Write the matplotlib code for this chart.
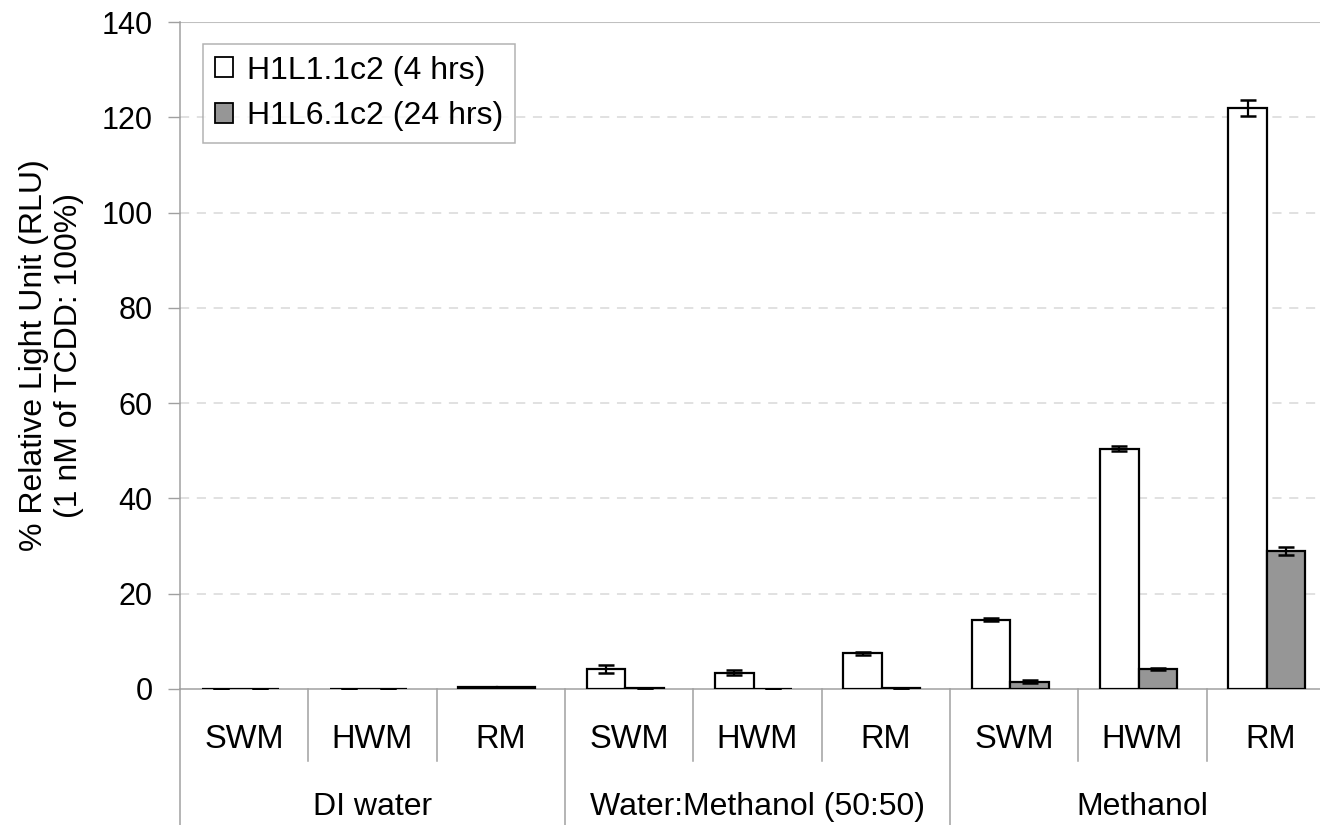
import matplotlib
matplotlib.use("Agg")
import matplotlib.pyplot as plt
import numpy as np
from matplotlib.patches import Patch
from matplotlib.lines import Line2D

plt.rcParams['font.family'] = ['Liberation Sans', 'DejaVu Sans']

groups = ["DI water", "Water:Methanol (50:50)", "Methanol"]
subcats = ["SWM", "HWM", "RM"]
series_names = ["H1L1.1c2 (4 hrs)", "H1L6.1c2 (24 hrs)"]
h1l1 = [0.05, 0.05, 0.35, 4.2, 3.4, 7.5, 14.5, 50.4, 122.0]
h1l1_err = [0.0, 0.0, 0.0, 0.8, 0.5, 0.3, 0.3, 0.5, 1.7]
h1l6 = [0.05, 0.05, 0.35, 0.3, 0.05, 0.3, 1.5, 4.2, 29.0]
h1l6_err = [0.0, 0.0, 0.0, 0.0, 0.0, 0.0, 0.3, 0.3, 0.9]
yticks = [0, 20, 40, 60, 80, 100, 120, 140]

W, H = 1320, 825
fig = plt.figure(figsize=(W / 100, H / 100), dpi=100)
ax = fig.add_axes([180 / W, (H - 689) / H, 1155 / W, 667 / H])

n = len(h1l1)
x = np.arange(n)
bw = 0.3
gray = '#969696'
ax.bar(x - bw / 2 - 0.03, h1l1, bw, color='white', edgecolor='black', linewidth=1.6, zorder=3)
ax.bar(x + bw / 2 - 0.03, h1l6, bw, color=gray, edgecolor='black', linewidth=1.6, zorder=3)
ax.errorbar(x - bw / 2 - 0.03, h1l1, yerr=h1l1_err, fmt='none', ecolor='black',
            elinewidth=1.6, capsize=6, capthick=1.8, zorder=4)
ax.errorbar(x + bw / 2 - 0.03, h1l6, yerr=h1l6_err, fmt='none', ecolor='black',
            elinewidth=1.6, capsize=6, capthick=1.8, zorder=4)

ax.set_xlim(-0.5, n - 0.5)
ax.set_ylim(0, 140)
ax.set_yticks(yticks)
ax.set_yticklabels([str(v) for v in yticks], fontsize=22)
ax.tick_params(axis='y', length=8.6, width=1, color='#a0a0a0', direction='out', pad=11)
ax.set_xticks([])
for v in yticks[1:-1]:
    ax.axhline(v, color='#d9d9d9', linestyle=(0, (6, 5)), linewidth=1.1, zorder=1)
ax.axhline(140, color='#c0c0c0', linewidth=1.5, zorder=1)

for s in ['top', 'right']:
    ax.spines[s].set_visible(False)
ax.spines['left'].set_color('#a0a0a0')
ax.spines['bottom'].set_color('#a0a0a0')
ax.spines['left'].set_linewidth(1.1)
ax.spines['bottom'].set_linewidth(1.1)

ax.set_ylabel("% Relative Light Unit (RLU)\n(1 nM of TCDD: 100%)", fontsize=23,
              linespacing=1.2)
ax.yaxis.set_label_coords((84 - 180) / 1155, 0.5)

trans = ax.get_xaxis_transform()
y_sub_end = (689 - 761) / 667
y_grp_end = (689 - 826) / 667
for k in range(n + 1):
    xb = k - 0.5
    yend = y_grp_end if k % 3 == 0 else y_sub_end
    ax.add_line(Line2D([xb, xb], [0, yend], transform=trans, color='#a0a0a0',
                       linewidth=1.1, clip_on=False))
for i in range(n):
    ax.text(i, (689 - 740) / 667, subcats[i % 3], transform=trans, ha='center',
            va='center', fontsize=23.5)
for g, name in enumerate(groups):
    ax.text(3 * g + 1, (689 - 807) / 667, name, transform=trans, ha='center',
            va='center', fontsize=23)

handles = [Patch(facecolor='white', edgecolor='black', linewidth=1.3),
           Patch(facecolor=gray, edgecolor='black', linewidth=1.3)]
leg = ax.legend(handles, series_names, loc='upper left',
                bbox_to_anchor=(23 / 1155, (689 - 44) / 667),
                fontsize=23, frameon=True, fancybox=False, handlelength=0.58,
                handleheight=0.58, handletextpad=0.45, borderpad=0.36, labelspacing=0.5,
                borderaxespad=0)
leg.get_frame().set_edgecolor('#a0a0a0')
leg.get_frame().set_linewidth(1.1)

fig.savefig("out.png", dpi=100)
